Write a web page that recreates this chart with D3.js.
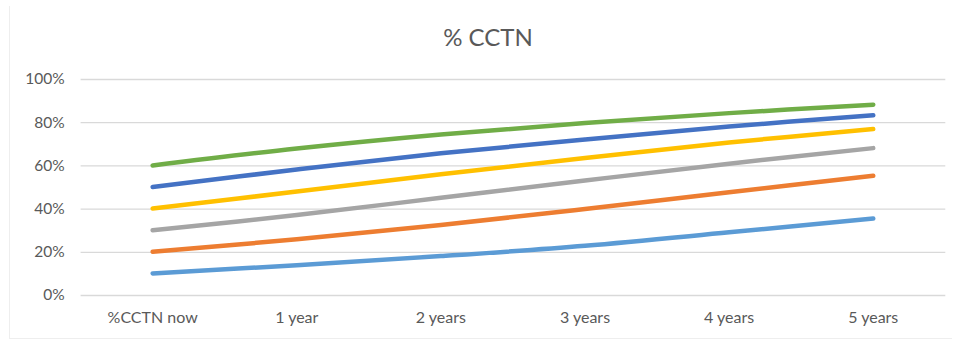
<!DOCTYPE html>
<html>
<head>
<meta charset="utf-8">
<script src="https://cdn.jsdelivr.net/npm/d3@7"></script>
<style>
  html, body { margin: 0; padding: 0; background: #fff; }
  svg { display: block; font-family: Lato, "Open Sans", sans-serif; }
</style>
</head>
<body>
<svg id="chart" width="958" height="341"></svg>
<script>
// Horizon categories
const categories = ["%CCTN now", "1 year", "2 years", "3 years", "4 years", "5 years"];

// Share of CCTN (%) per horizon, one array per scenario
const seriesLightBlue = [10, 13.8, 18.0, 22.8, 29.0, 35.4];
const seriesOrange    = [20, 25.8, 32.4, 39.8, 47.6, 55.2];
const seriesGray      = [30, 37.0, 45.0, 53.0, 60.8, 68.0];
const seriesYellow    = [40, 47.9, 55.9, 63.4, 70.6, 76.8];
const seriesBlue      = [50, 58.1, 65.6, 72.0, 78.0, 83.2];
const seriesGreen     = [60, 67.8, 74.3, 79.6, 84.2, 88.1];

const yTicks = [0, 20, 40, 60, 80, 100];
const title = "% CCTN";

const series = [
  { values: seriesLightBlue, color: "#5B9BD5" },
  { values: seriesOrange,    color: "#ED7D31" },
  { values: seriesGray,      color: "#A5A5A5" },
  { values: seriesYellow,    color: "#FFC000" },
  { values: seriesBlue,      color: "#4472C4" },
  { values: seriesGreen,     color: "#70AD47" }
];

const svg = d3.select("#chart");
const plot = { left: 80.6, right: 945.3, top: 79, bottom: 295 };

// faint outer frame edges
svg.append("line").attr("x1", 9.5).attr("x2", 9.5).attr("y1", 6).attr("y2", 338)
  .attr("stroke", "#eeeeee").attr("stroke-width", 1);
svg.append("line").attr("x1", 9).attr("x2", 952).attr("y1", 338.5).attr("y2", 338.5)
  .attr("stroke", "#eeeeee").attr("stroke-width", 1);

const x = d3.scaleBand().domain(categories).range([plot.left, plot.right]);
const y = d3.scaleLinear().domain([0, 100]).range([plot.bottom, plot.top]);

// gridlines + y labels
const yAxis = d3.axisLeft(y).tickValues(yTicks).tickFormat(d => d + "%")
  .tickSize(-(plot.right - plot.left)).tickPadding(16);
const gy = svg.append("g").attr("transform", `translate(${plot.left},0)`).call(yAxis);
gy.select(".domain").remove();
gy.selectAll(".tick line").attr("stroke", "#d9d9d9").attr("stroke-width", 1.3);
gy.selectAll(".tick text").attr("fill", "#595959").attr("font-size", 15.5)
  .attr("font-family", "Lato, 'Open Sans', sans-serif");

// x labels
const xAxis = d3.axisBottom(x).tickSize(0).tickPadding(17);
const gx = svg.append("g").attr("transform", `translate(0,${plot.bottom})`).call(xAxis);
gx.select(".domain").remove();
gx.selectAll(".tick text").attr("fill", "#595959").attr("font-size", 16)
  .attr("font-family", "Lato, 'Open Sans', sans-serif");

// title
svg.append("text").attr("x", 488).attr("y", 46).attr("text-anchor", "middle")
  .attr("fill", "#595959").attr("font-size", 24).text(title);

// smoothed scenario lines
const line = d3.line()
  .x((d, i) => x(categories[i]) + x.bandwidth() / 2)
  .y(d => y(d))
  .curve(d3.curveCatmullRom.alpha(0.5));

svg.append("g").selectAll("path").data(series).join("path")
  .attr("d", d => line(d.values))
  .attr("fill", "none")
  .attr("stroke", d => d.color)
  .attr("stroke-width", 4.5)
  .attr("stroke-linecap", "round")
  .attr("stroke-linejoin", "round");
</script>
</body>
</html>
